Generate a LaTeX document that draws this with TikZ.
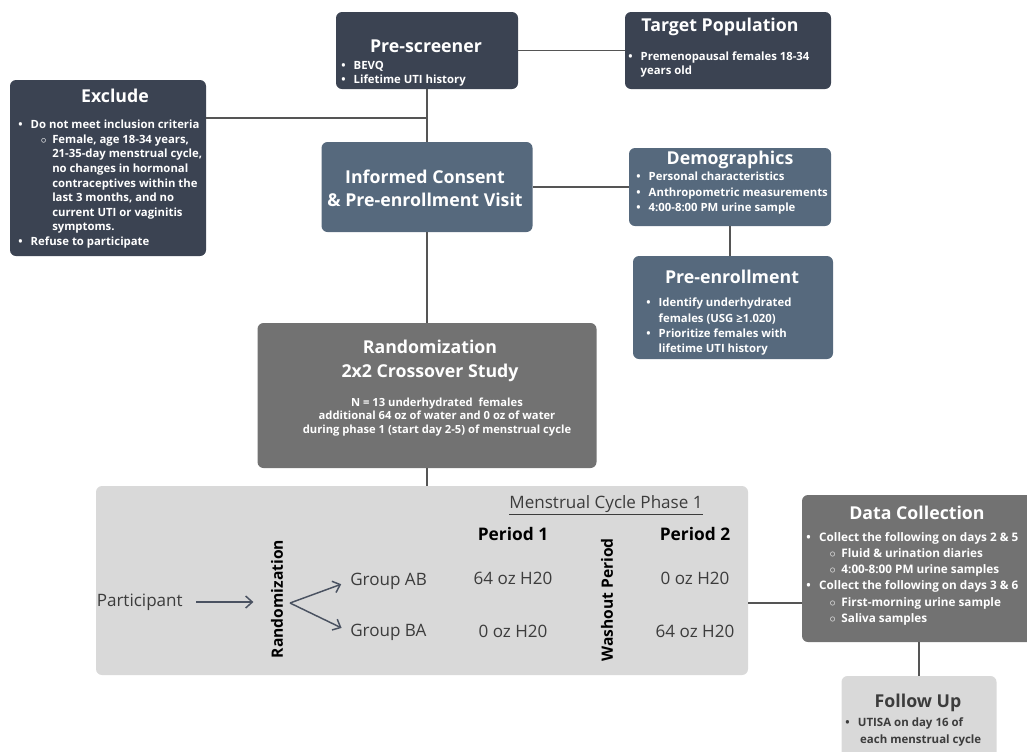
\documentclass[tikz,border=0pt]{standalone}
\usepackage{fontspec}
\setmainfont{Open Sans}
\usetikzlibrary{arrows.meta}

\definecolor{navy}{HTML}{3B4352}
\definecolor{slate}{HTML}{56697D}
\definecolor{midgray}{HTML}{727272}
\definecolor{panelgray}{HTML}{D9D9D9}
\definecolor{linegray}{HTML}{555555}
\definecolor{inkgray}{HTML}{3C3C3C}
\definecolor{arrowink}{HTML}{4A5261}

\newcommand{\titlesize}{\fontsize{13.3}{17.5}\bfseries\selectfont}
\newcommand{\bodysize}{\fontsize{8.5}{10.9}\bfseries\selectfont}
\newcommand{\bu}{\makebox[1.1em][l]{\textbullet}}
\newcommand{\sbu}{\hspace*{2em}\makebox[1em][l]{$\circ$}}
\newcommand{\hang}[1]{\hspace*{#1em}}

\tikzset{
  wh/.style 2 args={minimum width=#1*0.75pt, minimum height=#2*0.75pt},
  box/.style={rounded corners=4.5pt, inner sep=0pt},
  darkbox/.style={box, fill=navy},
  slatebox/.style={box, fill=slate},
  graybox/.style={box, fill=midgray},
  lightbox/.style={box, fill=panelgray},
  boxtitle/.style={font=\titlesize, text=white, inner sep=0pt},
  boxbody/.style={font=\bodysize, text=white, align=left, inner sep=0pt, anchor=north west},
  link/.style={draw=linegray, line width=1.1pt},
  cell/.style={font=\fontsize{12.8}{15}\selectfont, text=inkgray, inner sep=0pt},
  colhead/.style={font=\fontsize{13}{15}\bfseries\selectfont, text=black, inner sep=0pt},
  sidelabel/.style={font=\fontsize{11.7}{14}\bfseries\selectfont, text=black, inner sep=0pt, rotate=90},
  arr/.style={draw=arrowink, line width=1.1pt, -{Straight Barb[length=5pt,width=9pt]}}
}

\begin{document}
\begin{tikzpicture}[x=0.75pt,y=-0.75pt]
  \useasboundingbox (0,0) rectangle (1027,751);

  % boxes
  \node[darkbox, wh={182}{77}] (prescr) at (427,50.5) {};
  \node[darkbox, wh={206}{77}] (target) at (728,50.5) {};
  \node[darkbox, wh={196}{176}] (exclude) at (108,168) {};
  \node[slatebox, wh={211}{90}] (consent) at (427,187) {};
  \node[slatebox, wh={202}{78}] (demo) at (730,187) {};
  \node[slatebox, wh={200}{103}] (preenr) at (733,307.5) {};
  \node[graybox, wh={339}{145}] (rand) at (427,395.5) {};
  \node[lightbox, wh={652}{189}] (panel) at (422,580.5) {};
  \node[graybox, wh={234}{147}] (datac) at (919,568.5) {};
  \node[lightbox, wh={155}{90}] (followup) at (919,721) {};

  % connectors
  \coordinate (exjoin) at (427,118);
  \draw[link] (prescr) -- (target);
  \draw[link] (prescr) -- (consent);
  \draw[link] (exclude.east |- exjoin) -- (exjoin);
  \draw[link] (consent) -- (demo);
  \draw[link] (demo.south) -- (demo.south |- preenr.north);
  \draw[link] (consent) -- (rand);
  \draw[link] (rand.south) -- (rand.south |- panel.north);
  \path (panel.east) ++(0,22.5) coordinate (pjoin);
  \draw[link] (pjoin) -- (pjoin -| datac.west);
  \draw[link] (datac) -- (followup);

  % pre-screener
  \node[boxtitle] (prescrT) at (426,46) {Pre-screener};
  \node[boxbody, font=\fontsize{8.5}{10.5}\bfseries\selectfont] (prescrB) at (341,61) {\bu BEVQ\\ \bu Lifetime UTI history};

  % target population
  \node[boxtitle] (targetT) at (720,27) {Target Population};
  \node[boxbody, font=\fontsize{8.5}{10.5}\bfseries\selectfont] (targetB) at (628,52) {\bu Premenopausal females 18-34\\ \hang{1.1}years old};

  % exclude
  \node[boxtitle] (excludeT) at (115,96) {Exclude};
  \node[boxbody] (excludeB) at (18,120) {\bu Do not meet inclusion criteria\\
    \sbu Female, age 18-34 years,\\
    \hang{3}21-35-day menstrual cycle,\\
    \hang{3}no changes in hormonal\\
    \hang{3}contraceptives within the\\
    \hang{3}last 3 months, and no\\
    \hang{3}current UTI or vaginitis\\
    \hang{3}symptoms.\\
    \bu Refuse to participate};

  % informed consent
  \node[boxtitle, align=center] (consentT) at (425,188) {Informed Consent\\ \& Pre-enrollment Visit};

  % demographics
  \node[boxtitle] (demoT) at (730,160) {Demographics};
  \node[boxbody, font=\fontsize{8.5}{11.6}\bfseries\selectfont] (demoB) at (636,172)
    {\bu Personal characteristics\\ \bu Anthropometric measurements\\ \bu 4:00-8:00 PM urine sample};

  % pre-enrollment
  \node[boxtitle] (preenrT) at (732,277) {Pre-enrollment};
  \node[boxbody, font=\fontsize{8.5}{11.4}\bfseries\selectfont] (preenrB) at (646,298)
    {\bu Identify underhydrated\\ \hang{1.1}females (USG ≥1.020)\\ \bu Prioritize females with\\ \hang{1.1}lifetime UTI history};

  % randomization
  \node[boxtitle, align=center] (randT) at (430,361) {Randomization\\ 2x2 Crossover Study};
  \node[font=\fontsize{8.4}{10.1}\bfseries\selectfont, text=white, align=center, inner sep=0pt] (randB) at (437,417)
    {N = 13 underhydrated\ \ females\\ additional 64 oz of water and 0 oz of water\\ during phase 1 (start day 2-5) of menstrual cycle};

  % crossover panel
  \node[cell] (mcp) at (606,505) {\underline{Menstrual Cycle Phase 1}};
  \node[colhead] (p1h) at (513,534) {Period 1};
  \node[colhead] (p2h) at (695,534) {Period 2};
  \node[cell, anchor=east] (part) at (183,602) {Participant};
  \node[sidelabel] (rlab) at (277,599) {Randomization};
  \node[sidelabel] (wlab) at (607,600) {Washout Period};
  \node[cell, anchor=west] (gab) at (350,581) {Group AB};
  \node[cell, anchor=west] (gba) at (350,632) {Group BA};
  \node[cell] (a1) at (513,578) {64 oz H20};
  \node[cell] (b1) at (513,631) {0 oz H20};
  \node[cell] (a2) at (695,578) {0 oz H20};
  \node[cell] (b2) at (695,631) {64 oz H20};
  \coordinate (fork) at (290,603);
  \draw[arr, shorten <=10pt, shorten >=13pt] (part.east) -- (part.east -| rlab.north);
  \draw[arr, shorten >=7pt] (fork) -- (gab.west);
  \draw[arr, shorten >=7pt] (fork) -- (gba.west);

  % data collection
  \node[boxtitle] (datacT) at (917,513) {Data Collection};
  \node[boxbody, font=\fontsize{8.8}{12.15}\bfseries\selectfont] (datacB) at (806,532)
    {\bu Collect the following on days 2 \& 5\\
     \sbu Fluid \& urination diaries\\
     \sbu 4:00-8:00 PM urine samples\\
     \bu Collect the following on days 3 \& 6\\
     \sbu First-morning urine sample\\
     \sbu Saliva samples};

  % follow up
  \node[boxtitle, text=inkgray] (followT) at (918,703) {Follow Up};
  \node[boxbody, text=inkgray, font=\fontsize{8.6}{12.75}\bfseries\selectfont] (followB) at (845,717)
    {\bu UTISA on day 16 of\\ \hang{1.3}each menstrual cycle};
\end{tikzpicture}
\end{document}
